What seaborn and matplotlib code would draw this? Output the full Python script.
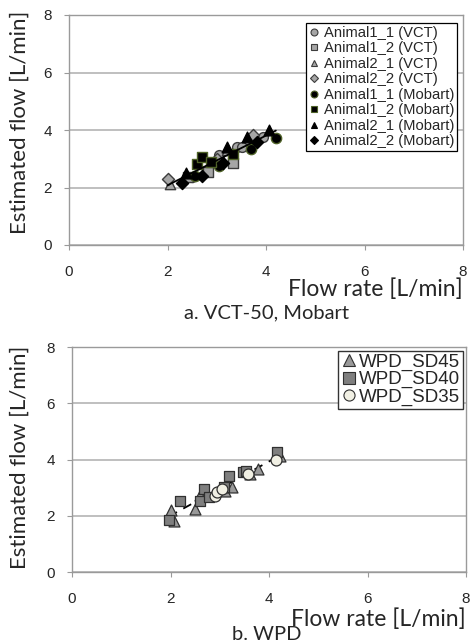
import numpy as np
import pandas as pd
import matplotlib
matplotlib.use("Agg")
import matplotlib.pyplot as plt
from matplotlib.lines import Line2D
import seaborn as sns

# ---------------- data (panel a) ----------------
a11_vct_x = [2.50, 3.04, 3.42, 3.52, 3.94]
a11_vct_y = [2.35, 3.12, 3.42, 3.42, 3.76]
a12_vct_x = [2.82, 3.34, 2.42]
a12_vct_y = [2.55, 2.84, 2.36]
a21_vct_x = [2.06, 3.20]
a21_vct_y = [2.12, 3.30]
a22_vct_x = [2.00, 3.73, 3.00]
a22_vct_y = [2.28, 3.84, 3.00]
a11_mob_x = [2.56, 3.04, 3.70, 4.20]
a11_mob_y = [2.40, 2.75, 3.35, 3.72]
a12_mob_x = [2.60, 2.71, 2.89, 3.32]
a12_mob_y = [2.82, 3.05, 2.90, 3.18]
a21_mob_x = [2.37, 3.21, 3.61, 4.07]
a21_mob_y = [2.49, 3.41, 3.77, 3.99]
a22_mob_x = [2.30, 2.70, 3.13, 3.81]
a22_mob_y = [2.17, 2.41, 2.84, 3.60]

labels_a = ["Animal1_1 (VCT)", "Animal1_2 (VCT)", "Animal2_1 (VCT)", "Animal2_2 (VCT)",
            "Animal1_1 (Mobart)", "Animal1_2 (Mobart)", "Animal2_1 (Mobart)", "Animal2_2 (Mobart)"]

# ---------------- data (panel b) ----------------
sd45_x = [2.01, 2.08, 2.49, 2.59, 3.10, 3.25, 3.62, 3.78, 4.23]
sd45_y = [2.22, 1.82, 2.24, 2.75, 2.88, 3.04, 3.50, 3.67, 4.11]
sd40_x = [1.97, 2.20, 2.59, 2.69, 2.79, 3.08, 3.18, 3.47, 3.54, 4.17]
sd40_y = [1.86, 2.54, 2.54, 2.95, 2.65, 3.04, 3.42, 3.54, 3.60, 4.27]
sd35_x = [2.91, 2.95, 3.04, 3.57, 4.14]
sd35_y = [2.69, 2.83, 2.96, 3.50, 3.99]
labels_b = ["WPD_SD45", "WPD_SD40", "WPD_SD35"]

ticks = [0, 2, 4, 6, 8]
xlabel = "Flow rate [L/min]"
ylabel = "Estimated flow [L/min]"
caption_a = "a. VCT-50, Mobart"
caption_b = "b. WPD"

# ---------------- style ----------------
sns.set_style("white")
plt.rcParams['font.family'] = ['Liberation Sans', 'DejaVu Sans']

W, H = 470, 643
fig = plt.figure(figsize=(W / 100, H / 100), dpi=100)

def fx(px):
    return px / W

def fy(py):
    return 1 - py / H

GRID = "#b4b4b4"
SPINE = "#9a9a9a"
LABEL_FONT = ['Lato', 'DejaVu Sans']

def style_axes(ax):
    ax.set_xlim(0, 8)
    ax.set_ylim(0, 8)
    ax.set_xticks(ticks)
    ax.set_yticks(ticks)
    ax.set_xticklabels([str(t) for t in ticks])
    ax.set_yticklabels([str(t) for t in ticks])
    ax.yaxis.grid(True, color=GRID, linewidth=1.2)
    ax.xaxis.grid(False)
    ax.set_axisbelow(True)
    for s in ax.spines.values():
        s.set_color(SPINE)
        s.set_linewidth(1.0)
        s.set_visible(True)
    ax.tick_params(axis='y', direction='out', length=3.5, width=0.8, color=SPINE,
                   pad=9, labelsize=11, left=True)
    ax.tick_params(axis='x', direction='out', length=3.5, width=0.8, color=SPINE,
                   pad=11, labelsize=11, bottom=True)
    ax.set_xlabel("")
    ax.set_ylabel("")

# ---------------- panel a ----------------
ax1 = fig.add_axes([fx(69), fy(245), fx(463) - fx(69), fy(15) - fy(245)])

GRAY = "#a6a6a6"
GEDGE = "#3c3c3c"
OLIVE = "#4f6228"
series_a = [
    (a11_vct_x, a11_vct_y, 'o', GRAY, GEDGE, 50),
    (a12_vct_x, a12_vct_y, 's', GRAY, GEDGE, 55),
    (a21_vct_x, a21_vct_y, '^', GRAY, GEDGE, 55),
    (a22_vct_x, a22_vct_y, 'D', GRAY, GEDGE, 38),
    (a11_mob_x, a11_mob_y, 'o', "black", OLIVE, 55),
    (a12_mob_x, a12_mob_y, 's', "black", OLIVE, 60),
    (a21_mob_x, a21_mob_y, '^', "black", "black", 60),
    (a22_mob_x, a22_mob_y, 'D', "black", "black", 38),
]
all_ax, all_ay = [], []
for xs, ys, m, fc, ec, s in series_a:
    sns.scatterplot(x=xs, y=ys, marker=m, color=fc, edgecolor=ec, linewidth=1.0,
                    s=s, ax=ax1, zorder=3)
    all_ax += xs
    all_ay += ys
sns.regplot(x=np.array(all_ax), y=np.array(all_ay), scatter=False, ci=None,
            truncate=True, color="black", line_kws=dict(linewidth=1.3, zorder=4), ax=ax1)
style_axes(ax1)

handles_a = [Line2D([], [], linestyle='none', marker=m, markerfacecolor=fc,
                    markeredgecolor=ec, markersize=5 if m != 'D' else 4.2,
                    markeredgewidth=0.8)
             for xs, ys, m, fc, ec, s in series_a]
leg1 = ax1.legend(handles_a, labels_a, loc='upper right', bbox_to_anchor=(0.985, 0.965),
                  borderaxespad=0, fontsize=10.6, frameon=True, fancybox=False,
                  edgecolor="black", framealpha=1, handlelength=0.7, handletextpad=0.3,
                  labelspacing=0.1, borderpad=0.2)
leg1.get_frame().set_linewidth(0.9)

# ---------------- panel b ----------------
ax2 = fig.add_axes([fx(72), fy(572), fx(466) - fx(72), fy(347) - fy(572)])
series_b = [
    (sd45_x, sd45_y, '^', "#999999", "#303030", 62),
    (sd40_x, sd40_y, 's', "#7f7f7f", "#303030", 62),
    (sd35_x, sd35_y, 'o', "#f1f0e4", "#303030", 62),
]
all_bx, all_by = [], []
for xs, ys, m, fc, ec, s in series_b:
    sns.scatterplot(x=xs, y=ys, marker=m, color=fc, edgecolor=ec, linewidth=0.9,
                    s=s, ax=ax2, zorder=3)
    all_bx += xs
    all_by += ys
sns.regplot(x=np.array(all_bx), y=np.array(all_by), scatter=False, ci=None,
            truncate=True, color="black",
            line_kws=dict(linewidth=1.3, linestyle=(0, (5, 4)), zorder=2), ax=ax2)
style_axes(ax2)

handles_b = [Line2D([], [], linestyle='none', marker=m, markerfacecolor=fc,
                    markeredgecolor=ec, markersize=8, markeredgewidth=0.8)
             for xs, ys, m, fc, ec, s in series_b]
leg2 = ax2.legend(handles_b, labels_b, loc='upper right', bbox_to_anchor=(0.992, 0.982),
                  borderaxespad=0, fontsize=13.5, frameon=True, fancybox=False,
                  edgecolor="#333333", framealpha=1, handlelength=0.8, handletextpad=0.15,
                  labelspacing=0.0, borderpad=0.15)
leg2.get_frame().set_linewidth(1.0)

# ---------------- texts ----------------
fig.text(fx(20), fy(122), ylabel, rotation=90, ha='center', va='center',
         fontsize=16, family=LABEL_FONT)
fig.text(fx(20), fy(457), ylabel, rotation=90, ha='center', va='center',
         fontsize=16, family=LABEL_FONT)
fig.text(fx(463), fy(289), xlabel, ha='right', va='center', fontsize=16.5, family=LABEL_FONT)
fig.text(fx(466), fy(619), xlabel, ha='right', va='center', fontsize=16.5, family=LABEL_FONT)
fig.text(fx(266), fy(313), caption_a, ha='center', va='center', fontsize=14.5, family=LABEL_FONT)
fig.text(fx(267), fy(634), caption_b, ha='center', va='center', fontsize=14.5, family=LABEL_FONT)

fig.savefig("out.png", dpi=100)
